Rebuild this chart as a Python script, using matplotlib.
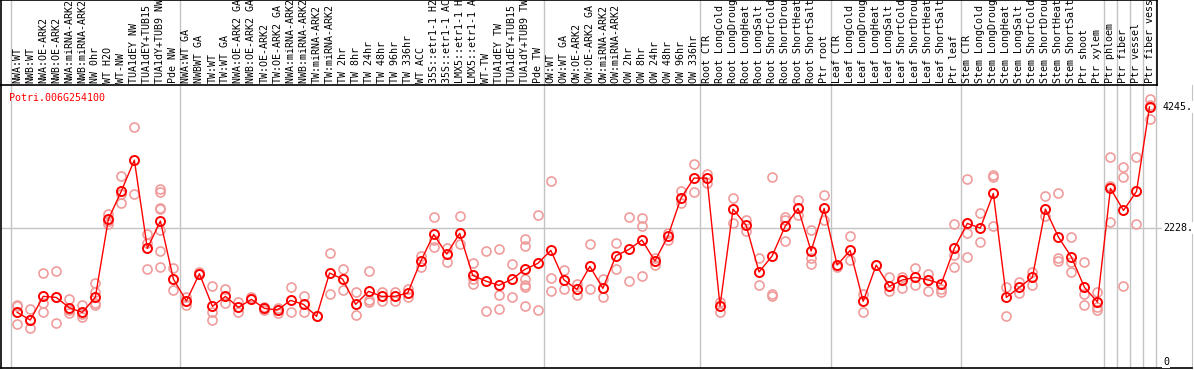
import matplotlib
matplotlib.use("Agg")
import matplotlib.pyplot as plt
import numpy as np

plt.rcParams['font.family'] = ['DejaVu Sans Mono']

gene = "Potri.006G254100"

labels = ["NWA:WT", "NWB:WT", "NWA:OE-ARK2", "NWB:OE-ARK2", "NWA:miRNA-ARK2",
          "NWB:miRNA-ARK2", "NW 0hr", "WT H2O", "WT-NW", "TUA1dEY NW",
          "TUA1dEY+TUB15 NW", "TUA1dY+TUB9 NW", "Pde NW",
          "NWA:WT GA", "NWBWT GA", "TW:WT", "TW:WT GA", "NWA:OE-ARK2 GA",
          "NWB:OE-ARK2 GA", "TW:OE-ARK2", "TW:OE-ARK2 GA", "NWA:miRNA-ARK2 GA",
          "NWB:miRNA-ARK2 GA", "TW:miRNA-ARK2", "TW:miRNA-ARK2 GA", "TW 2hr",
          "TW 8hr", "TW 24hr", "TW 48hr", "TW 96hr", "TW 336hr", "WT ACC",
          "35S::etr1-1 H2O", "35S::etr1-1 ACC", "LMX5::etr1-1 H2O",
          "LMX5::etr1-1 ACC", "WT-TW", "TUA1dEY TW", "TUA1dEY+TUB15 TW",
          "TUA1dY+TUB9 TW", "Pde TW",
          "OW:WT", "OW:WT GA", "OW:OE-ARK2", "OW:OE-ARK2 GA", "OW:miRNA-ARK2",
          "OW:miRNA-ARK2 GA", "OW 2hr", "OW 8hr", "OW 24hr", "OW 48hr",
          "OW 96hr", "OW 336hr",
          "Root CTR", "Root LongCold", "Root LongDrought", "Root LongHeat",
          "Root LongSalt", "Root ShortCold", "Root ShortDrought",
          "Root ShortHeat", "Root ShortSalt", "Ptr root",
          "Leaf CTR", "Leaf LongCold", "Leaf LongDrought", "Leaf LongHeat",
          "Leaf LongSalt", "Leaf ShortCold", "Leaf ShortDrought",
          "Leaf ShortHeat", "Leaf ShortSalt", "Ptr leaf",
          "Stem CTR", "Stem LongCold", "Stem LongDrought", "Stem LongHeat",
          "Stem LongSalt", "Stem ShortCold", "Stem ShortDrought",
          "Stem ShortHeat", "Stem ShortSalt", "Ptr shoot", "Ptr xylem",
          "Ptr phloem", "Ptr fiber", "Ptr vessel", "Ptr fiber vessel"]

means = [826, 698, 1092, 1075, 903, 826, 1075, 2372, 2844, 3359, 1890, 2345, 1380,
         1014, 1469, 926, 1092, 909, 1042, 892, 865, 1025, 959, 759, 1480, 1380,
         959, 1175, 1092, 1092, 1147, 1674, 2123, 1796, 2140, 1441, 1347, 1275,
         1375, 1541, 1641,
         1857, 1369, 1208, 1591, 1225, 1768, 1873, 2029, 1680, 2095, 2727, 3060,
         3060, 931, 2544, 2278, 1497, 1763, 2256, 2555, 1846, 2555,
         1613, 1857, 1009, 1613, 1258, 1364, 1408, 1364, 1303, 1890,
         2306, 2228, 2805, 1075, 1242, 1408, 2544, 2079, 1746, 1242, 998,
         2888, 2522, 2838, 4245]

reps = [[948, 931, 626], [881, 560, 698], [1480, 987, 826], [1508, 1075, 643],
        [1042, 865, 809], [948, 798, 754], [1308, 1170, 976, 948],
        [2461, 2345, 2289], [3087, 2788, 2638], [3908, 2788], [2123, 1984, 1541],
        [2871, 2821, 2555, 2539, 2195, 1840, 1580], [1563, 1197],
        [1075, 948], [1502, 1469], [1264, 826, 698], [1214, 981], [992, 826],
        [1086, 1042], [909, 865], [892, 820], [1242, 826], [1103, 826], [759],
        [1813, 1131], [1546, 1197], [1164, 776], [1508, 1031, 992], [1159, 1020],
        [1164, 1020], [1208, 1086], [1768, 1585], [2406, 2029, 1907],
        [1896, 1668], [2428, 1962], [1646, 1386, 1292], [1840, 848],
        [1879, 1114, 876], [1630, 1086], [2045, 1923, 1375, 1280, 1253, 926],
        [2444, 859],
        [3010, 1391, 1175], [1524, 1219], [1297, 1120], [1962, 1208],
        [1375, 1075], [1973, 1541], [2406, 1341], [2389, 2256, 1430],
        [1724, 1613], [2140, 2034], [2844, 2638], [3293, 2821],
        [3126, 2982], [998, 826], [2722, 2306], [2361, 2184], [1724, 1280],
        [3071, 1131, 1092], [2411, 2356, 2006], [2694, 2444], [2189, 1735, 1630],
        [2772, 2361],
        [1585], [2095, 1691], [1131, 826], [1613], [1408, 1175], [1419, 1236],
        [1563, 1275], [1469, 1175], [1208, 1159], [2289, 1779, 1574],
        [3038, 2140, 1740], [2472, 1990], [3104, 3071, 2256], [1242, 759],
        [1336, 1142], [1502, 1275], [2755, 2428], [2805, 1724, 1680],
        [2079, 1668, 1491], [1657, 1136, 948], [1159, 920, 865],
        [3403, 2932, 2328], [3238, 3071, 1264], [3403, 2289], [4384, 4274, 4035]]

separators = [-0.5, 12.5, 40.5, 52.5, 62.5, 72.5, 83.5, 84.5, 85.5, 86.5, 87.5]
ytick_vals = [4245, 2228, 0]
ytick_text = ["4245.", "2228.", "0"]

W, H = 1194, 370
grey = '#c4c4c4'
pink = '#f09c9c'

# pixel -> data mapping for x (13 px per sample, first separator at x=10.7)
def px2x(px):
    return (px - 10.7) / 13.015 - 0.5

fig = plt.figure(figsize=(W / 100, H / 100), dpi=100)

# plot area
ax = fig.add_axes([1 / W, 2 / H, 1191 / W, 283 / H])
ax.set_xlim(px2x(1), px2x(1192))
ax.set_ylim(-100, 4609)
ax.set_xticks([])
ax.set_yticks([])
ax.spines['top'].set_visible(False)
ax.spines['right'].set_color(grey)
for s in ['left', 'bottom']:
    ax.spines[s].set_linewidth(1.2)

for s in separators:
    ax.axvline(s, color=grey, lw=1, zorder=1)
ax.axhline(2228, color=grey, lw=1, zorder=1)

x = np.arange(len(means))
for i, r in enumerate(reps):
    ax.plot([i] * len(r), r, 'o', ms=6.5, mfc='none', mec=pink, mew=1.2, zorder=2)
ax.plot(x, means, '-', color='red', lw=1, zorder=3)
ax.plot(x, means, 'o', ms=6.5, mfc='none', mec='red', mew=1.4, zorder=4)

ax.text(8 / 1191, 1 - 8 / 283, gene, color='red', fontsize=7.2,
        transform=ax.transAxes, ha='left', va='top')

for v, t in zip(ytick_vals, ytick_text):
    ax.text(px2x(1163), v, t, fontsize=7.2, ha='left', va='center', zorder=5,
            bbox=dict(facecolor='white', edgecolor='none', pad=0.5))

# label area on top
lax = fig.add_axes([1 / W, (H - 85) / H, 1156 / W, 85 / H])
lax.set_xlim(px2x(1), px2x(1157))
lax.set_ylim(0, 1)
lax.set_xticks([])
lax.set_yticks([])
for s in lax.spines.values():
    s.set_linewidth(1.2)
for s in separators:
    lax.axvline(s, color=grey, lw=1, zorder=1)
for i, lab in enumerate(labels):
    lax.text(i, 2 / 85, lab, rotation=90, fontsize=7.2, ha='center', va='bottom',
             clip_on=True, zorder=2)

fig.savefig("out.png", dpi=100)
